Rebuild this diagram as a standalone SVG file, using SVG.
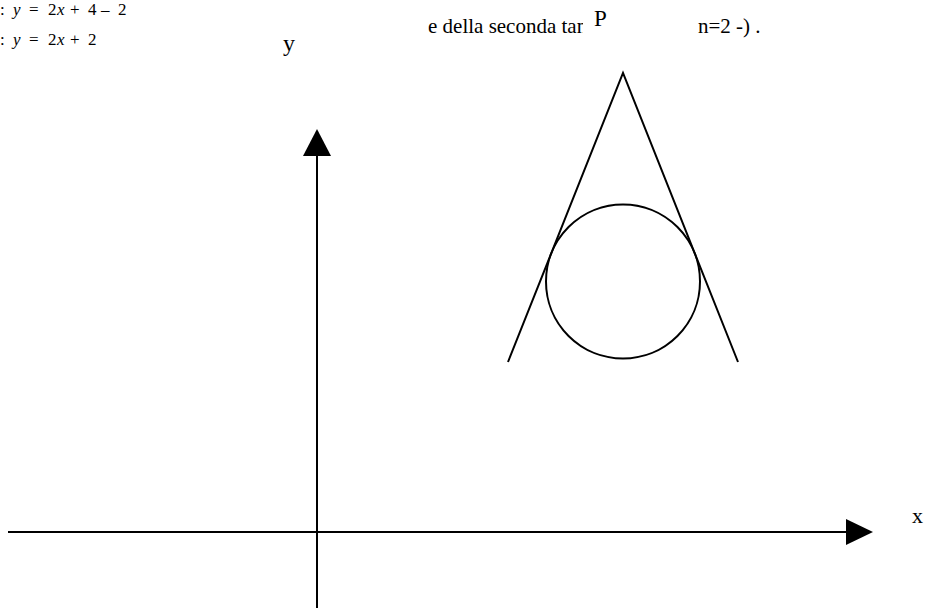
<svg xmlns="http://www.w3.org/2000/svg" width="927" height="609" viewBox="0 0 927 609">
<style>
.t{font-family:"Liberation Serif","DejaVu Serif",serif;fill:#000}
.i{font-style:italic}
.ln{stroke:#000;stroke-width:2;fill:none}
</style>
<defs>
<clipPath id="capclip"><rect x="400" y="0" width="183" height="60"/></clipPath>
</defs>
<rect width="927" height="609" fill="#fff"/>
<g id="formula">
<text class="t" font-size="17" y="15"><tspan x="0">:</tspan><tspan x="13" class="i">y</tspan><tspan x="29">=</tspan><tspan x="48">2</tspan><tspan x="57" class="i">x</tspan><tspan x="70">+</tspan><tspan x="88">4</tspan><tspan x="101">–</tspan><tspan x="118">2</tspan></text>
<text class="t" font-size="17" y="45"><tspan x="0">:</tspan><tspan x="13" class="i">y</tspan><tspan x="29">=</tspan><tspan x="48">2</tspan><tspan x="57" class="i">x</tspan><tspan x="70">+</tspan><tspan x="88">2</tspan></text>
</g>
<g id="caption">
<text class="t" font-size="21" x="428" y="33" clip-path="url(#capclip)">e della seconda tan</text>
<text class="t" font-size="21" x="698" y="33">n=2 -) .</text>
</g>
<g id="P"><text class="t" font-size="23" x="594" y="26">P</text></g>
<g id="y-label"><text class="t" font-size="24" x="283" y="51">y</text></g>
<g id="x-label"><text class="t" font-size="22" x="912" y="523">x</text></g>
<g id="connectors">
<line class="ln" x1="8" y1="532" x2="846" y2="532"/>
<polygon points="846,519 873,532 846,545" fill="#000"/>
<line class="ln" x1="317" y1="155" x2="317" y2="608"/>
<polygon points="303,156 317,129 331,156" fill="#000"/>
<polyline class="ln" points="508,362 623,73 738,362"/>
</g>
<g id="circle"><circle class="ln" cx="623" cy="281.5" r="77"/></g>
</svg>
